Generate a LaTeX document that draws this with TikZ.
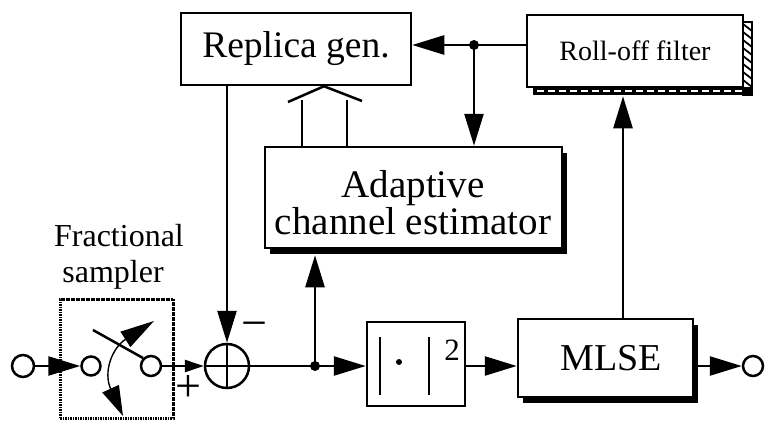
\documentclass[tikz,border=0pt]{standalone}
\usepackage{fontspec}
\setmainfont{Liberation Serif}
\usetikzlibrary{arrows.meta,shadows,calc}
\begin{document}
\begin{tikzpicture}[x=1pt,y=-1pt,
  line width=2.5pt,
  box/.style={draw, rectangle, fill=white, inner sep=0pt, line width=2.5pt},
  sh/.style={drop shadow={shadow xshift=5pt, shadow yshift=-6pt, fill=black, opacity=1}},
  big/.style={-{Triangle[length=32pt,width=19pt]}},
  small/.style={-{Triangle[length=19pt,width=12pt]}},
  port/.style={draw, circle, inner sep=0pt, line width=2.5pt, fill=white},
  jdot/.style={circle, fill, inner sep=0pt, minimum size=10pt}
]
\useasboundingbox (0,0) rectangle (765,420);

% blocks
\node[box, font=\fontsize{37.5}{40}\selectfont, minimum width=230pt, minimum height=72pt] (rep) at (296,49) {Replica gen.};
\node[box, font=\fontsize{28}{32}\selectfont, minimum width=216pt, minimum height=72pt] (roll) at (635,51) {Roll-off filter};
\node[box, sh, minimum width=297pt, minimum height=101pt] (adapt) at (413.5,197.5) {};
\node[font=\fontsize{39}{37}\selectfont, align=center, inner sep=0pt] (adtxt) at (413,203) {Adaptive\\channel estimator};
\node[box, minimum width=98pt, minimum height=84pt] (sq) at (416,364) {};
\node[box, sh, font=\fontsize{38}{40}\selectfont, minimum width=175pt, minimum height=78pt] (mlse) at (605.5,358) {\hspace*{12pt}MLSE};
\node[draw, dash pattern=on 1.6pt off 0.9pt, line width=3pt, minimum width=113pt, minimum height=119pt, inner sep=0pt] (samp) at (116.5,358.5) {};

% roll-off filter shadow strips
\fill (533,87) rectangle (752,95);
\draw[white, line width=1.6pt, dash pattern=on 7pt off 4pt] (537,91) -- (742,91);
\begin{scope}
  \clip (743,22) rectangle (752,95);
  \foreach \yy in {16,24,...,96} { \draw[line width=1.8pt] (743,\yy) -- (752,\yy+7); }
\end{scope}
\draw[line width=1.6pt] (743,22) rectangle (752,95);

% |.|^2 content
\draw (380,337) -- (380,395);
\draw (429,337) -- (429,395);
\fill (399,362) circle (3pt);
\node[font=\fontsize{31}{31}\selectfont] (two) at (452,350) {2};

% ports
\node[port, minimum size=44pt] (add) at (227,366) {};
\draw (add.north) -- (add.south);
\draw (add.west) -- (add.east);
\node[port, minimum size=22pt] (in) at (23,366) {};
\node[port, minimum size=19pt] (s1) at (91,366) {};
\node[port, minimum size=20pt] (s2) at (151,366) {};
\node[port, minimum size=20pt] (out) at (753,366) {};

% sampler switch
\coordinate (lv) at (93,330);
\draw (lv) -- (s2.north west);
\draw[line width=1.4pt, {Triangle[length=30pt,width=18pt]}-{Triangle[length=34pt,width=18pt]}]
  (123,416) .. controls (103,372) and (112,348) .. (154,321);

% labels
\node[font=\fontsize{32}{32}\selectfont] (fr) at (119,236) {Fractional};
\node[font=\fontsize{32}{32}\selectfont] (sa) at (113,275) {sampler};
\node[font=\fontsize{46}{46}\selectfont] (minus) at (254,330) {−};
\node[font=\fontsize{46}{46}\selectfont] (plus) at (188,389) {+};

% connectors
\coordinate (jb) at (315,366);
\coordinate (jt) at (474,45);
\coordinate (rx) at (623,0);
\draw[big] (in) -- (s1);
\draw[small] (s2) -- (add);
\draw (add) -- (jb);
\draw[big] (jb) -- (sq.west |- jb);
\draw[big] (jb) -- ($(jb |- adapt.south)+(0,6)$);
\draw[big] (sq.east |- jb) -- (mlse.west |- jb);
\draw[big] (mlse.east |- jb) -- (out);
\draw[big] (rx |- mlse.north) -- ($(rx |- roll.south)+(0,8)$);
\draw (roll.west |- jt) -- (jt);
\draw[big] (jt) -- (rep.east |- jt);
\draw[big] (jt) -- (jt |- adapt.north);
\draw[big] (rep.south -| add) -- (add.north);
\node[jdot] (jbd) at (jb) {};
\node[jdot] (jtd) at (jt) {};

% hollow arrow adaptive -> replica
\coordinate (h1) at (302,100);
\coordinate (h2) at (347,100);
\draw (h1 |- adapt.north) -- (h1);
\draw (h2 |- adapt.north) -- (h2);
\draw (288,102) -- (rep.south -| 324,0) -- (362,101);
\end{tikzpicture}
\end{document}
